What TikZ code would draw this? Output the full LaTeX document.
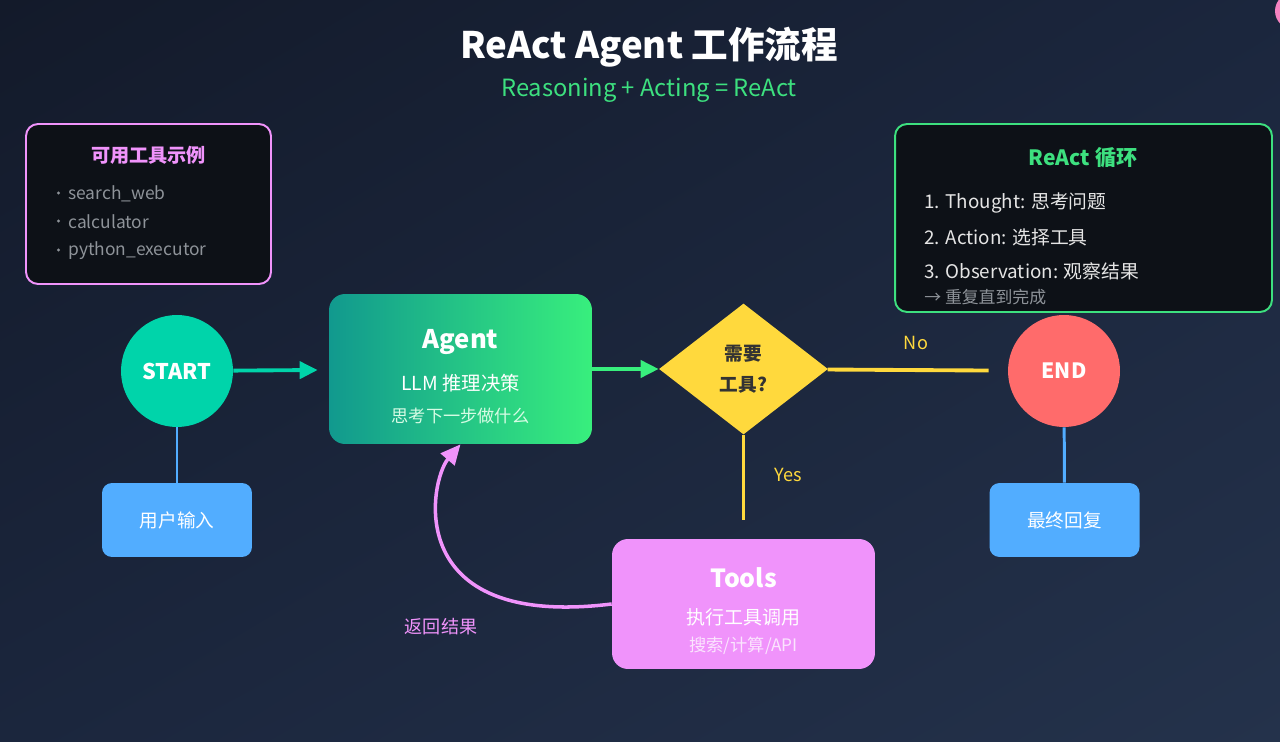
\documentclass[tikz,border=0pt]{standalone}
\usepackage{fontspec}
\setmainfont{Noto Sans CJK SC}
\usetikzlibrary{shapes.geometric,arrows.meta,shadings}
\definecolor{bgA}{HTML}{131A2A}
\definecolor{bgB}{HTML}{1B263D}
\definecolor{bgC}{HTML}{24324B}
\definecolor{panel}{HTML}{0D1117}
\definecolor{startc}{HTML}{00D4AA}
\definecolor{agentL}{HTML}{11998E}
\definecolor{agentR}{HTML}{38EF7D}
\definecolor{decc}{HTML}{FFD93D}
\definecolor{endc}{HTML}{FF6B6B}
\definecolor{ioc}{HTML}{52ADFF}
\definecolor{toolc}{HTML}{F093FB}
\definecolor{greent}{HTML}{3DE07F}
\definecolor{grayt}{HTML}{8E9399}
\definecolor{darkt}{HTML}{333333}
\tikzstyle{startnd}=[circle,fill=startc,minimum size=2.24cm,inner sep=0pt,text=white,font=\fontsize{12.3}{14}\selectfont\bfseries]
\tikzstyle{endnd}=[circle,fill=endc,minimum size=2.24cm,inner sep=0pt,text=white,font=\fontsize{12}{14}\selectfont\bfseries]
\tikzstyle{agentnd}=[rectangle,rounded corners=0.32cm,left color=agentL,right color=agentR,minimum width=5.26cm,minimum height=3cm]
\tikzstyle{toolsnd}=[rectangle,rounded corners=0.32cm,fill=toolc,minimum width=5.26cm,minimum height=2.6cm]
\tikzstyle{decnd}=[diamond,fill=decc,minimum width=3.38cm,minimum height=2.62cm,inner sep=0pt,align=center,text=darkt,font=\fontsize{10.6}{17.5}\selectfont\bfseries]
\tikzstyle{ionode}=[rectangle,rounded corners=0.2cm,fill=ioc,minimum width=3cm,minimum height=1.48cm,text=white,font=\fontsize{10.6}{12}\selectfont]
\tikzstyle{panelnd}=[rectangle,rounded corners=0.24cm,fill=panel,line width=1.1pt]
\tikzstyle{bigt}=[text=white,font=\fontsize{14.6}{16}\selectfont\bfseries]
\tikzstyle{midt}=[text=white,font=\fontsize{11}{13}\selectfont]
\tikzstyle{smallt}=[font=\fontsize{9.8}{11}\selectfont]
\tikzstyle{itemt}=[anchor=west,inner sep=0pt,text=grayt,font=\fontsize{9.9}{11}\selectfont]
\tikzstyle{stept}=[anchor=west,inner sep=0pt,text=white!90!black,font=\fontsize{10.7}{12}\selectfont]
\tikzstyle{lbl}=[font=\fontsize{10.3}{12}\selectfont]

\begin{document}
\begin{tikzpicture}[x=0.02cm,y=-0.02cm]
% background
\shade[upper left=bgA,upper right=bgB,lower left=bgB,lower right=bgC] (0,0) rectangle (1280,742);
\useasboundingbox (0,0) rectangle (1280,742);
\begin{scope}
\clip (0,0) rectangle (1280,742);
\fill[endc!40!toolc] (1293,11) circle[radius=18];
\end{scope}

% title
\node[text=white,font=\fontsize{20.8}{24}\selectfont\bfseries] (ttl) at (649,47) {ReAct Agent 工作流程};
\node[text=greent,font=\fontsize{13.5}{15}\selectfont] (subttl) at (649,90) {Reasoning + Acting = ReAct};

% tools example panel
\node[panelnd,draw=toolc,minimum width=4.9cm,minimum height=3.2cm] (expanel) at (148.5,204) {};
\node[text=toolc,font=\fontsize{10.9}{12}\selectfont\bfseries] (expanel-t) at (148.5,155) {可用工具示例};
\node[itemt] (ex1) at (68,194) {search\_web};
\node[itemt] (ex2) at (68,222) {calculator};
\node[itemt] (ex3) at (68,251) {python\_executor};
\foreach \y in {193,221,250}
  \fill[grayt] (58.5,\y) circle[radius=1.6];

% react loop panel
\node[panelnd,draw=greent,minimum width=7.54cm,minimum height=3.76cm] (loop) at (1083.5,218) {};
\node[text=greent,font=\fontsize{12}{14}\selectfont\bfseries] (loop-t) at (1083,158) {ReAct 循环};
\node[stept] (s1) at (924,203) {1. Thought: 思考问题};
\node[stept] (s2) at (924,237) {2. Action: 选择工具};
\node[stept] (s3) at (924,271) {3. Observation: 观察结果};
\node[itemt,font=\fontsize{9.6}{11}\selectfont] (s4) at (924,297) {→ 重复直到完成};

% main flow
\node[startnd] (start) at (177,371) {START};
\node[agentnd] (agent) at (460.5,369) {};
\node[bigt] (agent-t) at (460.5,342) {Agent};
\node[midt] (agent-s) at (460.5,383) {LLM 推理决策};
\node[smallt,text=white!80!agentR] (agent-d) at (460.5,416) {思考下一步做什么};
\node[decnd] (need) at (743.5,369) {需要\\工具?};
\node[endnd] (end) at (1064,371) {END};
\node[ionode] (input) at (177,520) {用户输入};
\node[ionode] (reply) at (1064.5,520) {最终回复};
\node[toolsnd] (tools) at (743.5,604) {};
\node[bigt,font=\fontsize{14.2}{16}\selectfont\bfseries] (tools-t) at (743.5,578) {Tools};
\node[midt,font=\fontsize{10.8}{12}\selectfont] (tools-s) at (743.5,617) {执行工具调用};
\node[smallt,text=white!75!toolc] (tools-d) at (743.5,646) {搜索/计算/API};

% connectors
\draw[startc,line width=2.2pt,shorten >=0.22cm,-{Triangle[length=0.36cm,width=0.34cm]}] (start) -- (agent);
\draw[agentR,line width=2.2pt,-{Triangle[length=0.36cm,width=0.34cm]}] (agent) -- (need);
\draw[decc,line width=2.2pt,shorten >=0.38cm] (need) -- (end);
\draw[decc,line width=2.2pt,shorten >=0.38cm] (need) -- (tools);
\draw[ioc,line width=1.7pt] (start) -- (input);
\draw[ioc,line width=1.7pt] (end) -- (reply);
\draw[toolc,line width=2pt,-{Triangle[length=0.4cm,width=0.36cm]}] (tools.west) .. controls (400,630) and (430,480) .. (agent.south);
\node[lbl,text=decc] (no) at (916,343) {No};
\node[lbl,text=decc] (yes) at (788,475) {Yes};
\node[lbl,text=toolc] (back) at (441,627) {返回结果};
\end{tikzpicture}
\end{document}
